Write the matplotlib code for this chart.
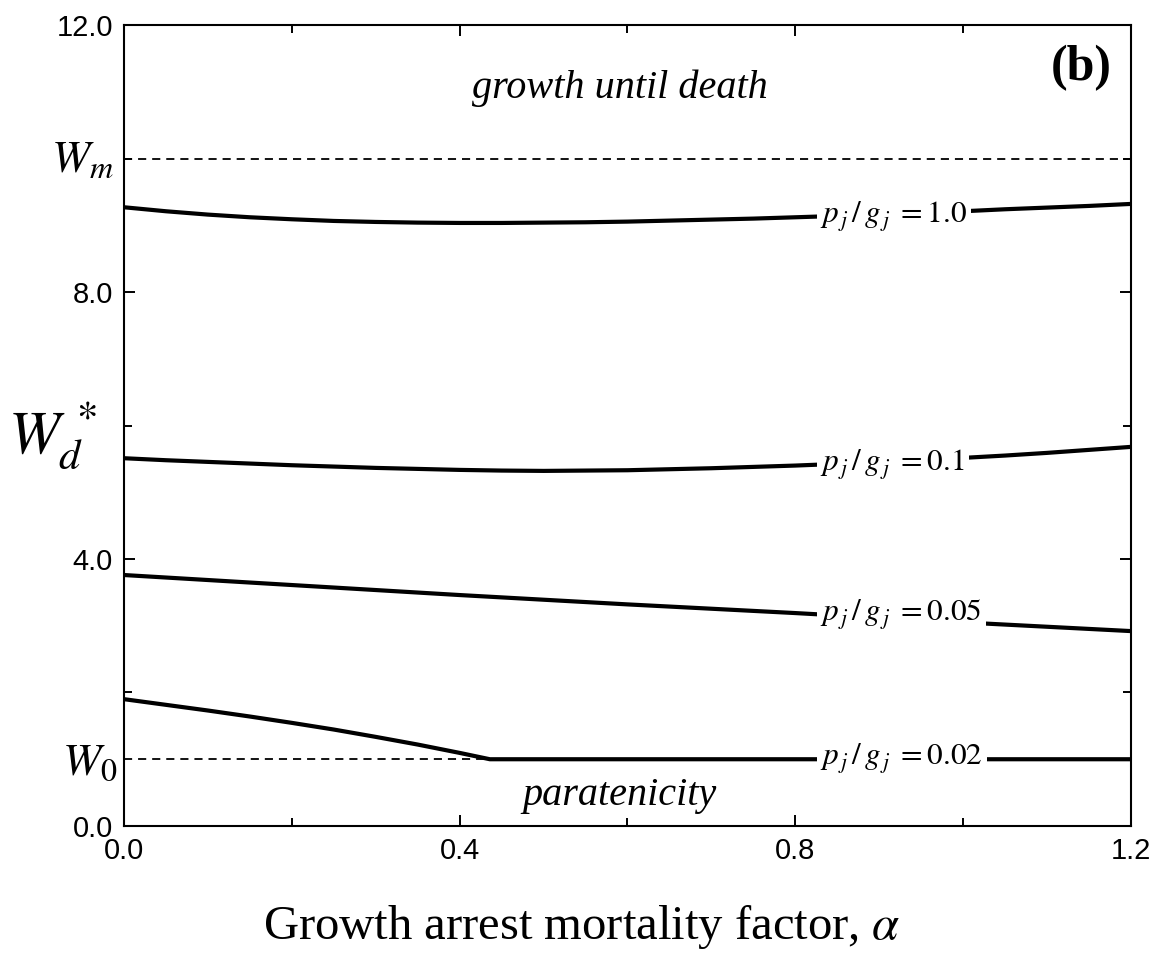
import numpy as np
import matplotlib
matplotlib.use('Agg')
import matplotlib.pyplot as plt
from matplotlib.ticker import MultipleLocator, FormatStrFormatter

# ====================
# Data
# ====================
alpha = [0.00, 0.05, 0.10, 0.15, 0.20, 0.25, 0.30, 0.35, 0.40, 0.45, 0.50, 0.55,
         0.60, 0.65, 0.70, 0.75, 0.80, 0.85, 0.90, 0.95, 1.00, 1.05, 1.10, 1.15, 1.20]
# p_j/g_j = 1.0
wd_10 = [9.27, 9.21, 9.16, 9.12, 9.09, 9.065, 9.05, 9.04, 9.035, 9.035, 9.04, 9.045,
         9.055, 9.07, 9.085, 9.10, 9.12, 9.14, 9.16, 9.18, 9.21, 9.24, 9.265, 9.29, 9.32]
# p_j/g_j = 0.1
wd_01 = [5.51, 5.48, 5.455, 5.43, 5.405, 5.385, 5.365, 5.35, 5.335, 5.325, 5.32, 5.325,
         5.33, 5.345, 5.36, 5.38, 5.40, 5.425, 5.45, 5.48, 5.515, 5.55, 5.59, 5.635, 5.68]

# p_j/g_j = 0.05
alpha_005 = [0.0, 0.2, 0.4, 0.6, 0.8, 1.0, 1.2]
wd_005 = [3.76, 3.61, 3.46, 3.32, 3.19, 3.05, 2.92]

# p_j/g_j = 0.02 (hits W0 and stays there)
alpha_002 = [0.0, 0.05, 0.10, 0.15, 0.20, 0.25, 0.30, 0.35, 0.40, 0.436, 0.8, 1.2]
wd_002 = [1.90, 1.815, 1.73, 1.64, 1.545, 1.445, 1.335, 1.22, 1.095, 1.0, 1.0, 1.0]

W_m = 10.0
W_0 = 1.0

label_texts = ['1.0', '0.1', '0.05', '0.02']
label_x = 0.83

plt.rcParams['mathtext.fontset'] = 'stix'
plt.rcParams['font.family'] = 'Liberation Sans'

fig = plt.figure(figsize=(11.59, 9.56), dpi=100)
ax = fig.add_axes([0.107, 0.136, 0.8688, 0.8378])

# dashed limits
ax.axhline(W_m, color='black', lw=1.3, ls=(0, (4.5, 3.3)), zorder=1)
ax.axhline(W_0, color='black', lw=1.3, ls=(0, (4.5, 3.3)), zorder=1)

# curves + inline labels
curves = [(alpha, wd_10), (alpha, wd_01), (alpha_005, wd_005), (alpha_002, wd_002)]
for (xs, ys), lab in zip(curves, label_texts):
    ax.plot(xs, ys, color='black', lw=3, solid_capstyle='butt',
            solid_joinstyle='round', zorder=2)
    y_at = np.interp(label_x, xs, ys)
    ax.annotate(r'$p_{\,j}\,/\,g_{\,j}\;=\mathrm{' + lab + '}$',
                xy=(label_x, y_at), xytext=(0, -5), textcoords='offset points',
                ha='left', va='baseline', fontsize=22.5,
                bbox=dict(boxstyle='square,pad=0.12', fc='white', ec='none'),
                zorder=3)

ax.set_xlim(0, 1.2)
ax.set_ylim(0, 12)
ax.xaxis.set_major_locator(MultipleLocator(0.4))
ax.xaxis.set_minor_locator(MultipleLocator(0.2))
ax.yaxis.set_major_locator(MultipleLocator(4))
ax.yaxis.set_minor_locator(MultipleLocator(2))
ax.xaxis.set_major_formatter(FormatStrFormatter('%.1f'))
ax.yaxis.set_major_formatter(FormatStrFormatter('%.1f'))
ax.tick_params(which='both', direction='in', top=True, right=True,
               labelsize=21, width=1.4, pad=8)
ax.tick_params(which='major', length=8)
ax.tick_params(which='minor', length=5.5)
for s in ax.spines.values():
    s.set_linewidth(1.5)

# region texts
ax.text(0.591, 10.9, 'growth until death', ha='center', va='baseline',
        fontsize=29, family='Liberation Serif', style='italic')
ax.text(0.591, 0.31, 'paratenicity', ha='center', va='baseline',
        fontsize=29, family='Liberation Serif', style='italic')
ax.text(1.177, 11.18, '(b)', ha='right', va='baseline',
        fontsize=36, family='Liberation Serif', weight='bold')

# W labels on left
trans = matplotlib.transforms.blended_transform_factory(ax.transAxes, ax.transData)
ax.text(-0.010, 9.80, r'$W_m$', transform=trans, ha='right', va='baseline', fontsize=33)
ax.text(-0.007, 0.764, r'$W_{\mathrm{0}}$', transform=trans, ha='right', va='baseline', fontsize=33)
ax.text(-0.026, 5.60, r'$W_d^{\,*}$', transform=trans, ha='right', va='baseline', fontsize=44)

# x label
fig.text(0.502, 0.018, r'Growth arrest mortality factor, $\alpha$', ha='center',
         va='baseline', fontsize=35, family='Liberation Serif')

plt.savefig('out.png', dpi=100)
